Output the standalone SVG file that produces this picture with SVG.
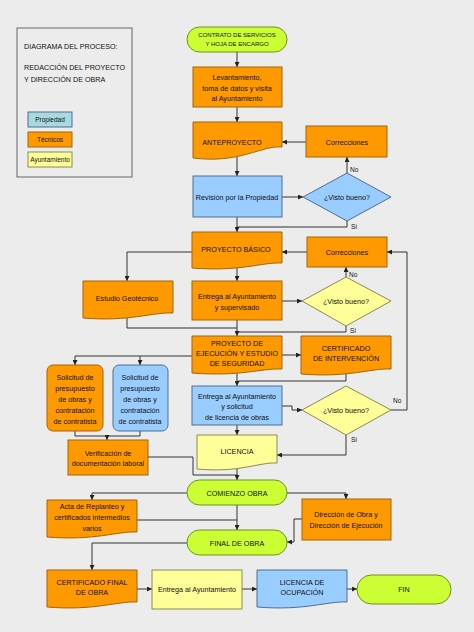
<svg xmlns="http://www.w3.org/2000/svg" width="474" height="632" viewBox="0 0 474 632">
<defs>
<marker id="ah" viewBox="0 0 6 6" refX="6" refY="3" markerWidth="5" markerHeight="5" orient="auto" markerUnits="userSpaceOnUse"><path d="M0,0 L6,3 L0,6 z" fill="#222"/></marker>
<style>
text{font-family:"Liberation Sans",Arial,sans-serif;font-size:7.2px;fill:#111;text-anchor:middle}
.lt{text-anchor:start}
.sm{font-size:6.5px}
.st{font-size:6px}
.or{fill:#ff9900;stroke:#a0660a;stroke-width:1}
.bl{fill:#99ccff;stroke:#4f6f8f;stroke-width:1}
.ye{fill:#ffff99;stroke:#8a8a50;stroke-width:1}
.gr{fill:#ccff33;stroke:#6f8f20;stroke-width:1}
#connectors polyline,#connectors line{fill:none;stroke:#333;stroke-width:1}
.a{marker-end:url(#ah)}
</style>
</defs>
<rect width="474" height="632" fill="#ececec"/>

<g id="legend">
<rect x="17" y="28" width="115" height="149" fill="#ececec" stroke="#666" stroke-width="1"/>
<text class="lt" x="24" y="49">DIAGRAMA DEL PROCESO:</text>
<text class="lt" x="24" y="70">REDACCIÓN DEL PROYECTO</text>
<text class="lt" x="24" y="82">Y DIRECCIÓN DE OBRA</text>
<rect class="bl" x="28" y="112" width="44" height="15" style="fill:#a8d8e0"/>
<text class="sm" x="50" y="122">Propiedad</text>
<rect class="or" x="28" y="132" width="44" height="15"/>
<text class="sm" x="50" y="142">Técnicos</text>
<rect class="ye" x="28" y="152" width="44" height="15"/>
<text class="sm" x="50" y="162">Ayuntamiento</text>
</g>

<g id="connectors">
<line class="a" x1="237" y1="52" x2="237" y2="67"/>
<line class="a" x1="237" y1="107" x2="237" y2="122"/>
<line class="a" x1="306" y1="142" x2="282" y2="142"/>
<line class="a" x1="237" y1="156" x2="237" y2="176"/>
<line class="a" x1="282" y1="197" x2="303" y2="197"/>
<line class="a" x1="347" y1="173" x2="347" y2="157"/>
<polyline points="347,221 347,227 237,227"/>
<line class="a" x1="237" y1="217" x2="237" y2="232"/>
<line class="a" x1="307" y1="252" x2="282" y2="252"/>
<polyline class="a" points="192,252 127,252 127,281"/>
<line class="a" x1="237" y1="266" x2="237" y2="281"/>
<line class="a" x1="282" y1="301" x2="302" y2="301"/>
<line class="a" x1="346" y1="277" x2="346" y2="267"/>
<polyline points="346,326 346,332 238,332"/>
<polyline points="127,317 127,328 237,328"/>
<line class="a" x1="237" y1="320" x2="237" y2="336"/>
<line class="a" x1="282" y1="355" x2="301" y2="355"/>
<polyline points="346,371 346,381 238,381"/>
<line class="a" x1="237" y1="370" x2="237" y2="386"/>
<polyline class="a" points="192,356 75,356 75,365"/>
<line class="a" x1="140" y1="356" x2="140" y2="365"/>
<polyline points="75,431 75,436 140,436 140,431"/>
<line class="a" x1="107" y1="436" x2="107" y2="440"/>
<polyline class="a" points="282,406 292,406 292,410 302,410"/>
<polyline class="a" points="391,410 407,410 407,252 387,252"/>
<polyline class="a" points="346,435 346,455 277,455"/>
<line class="a" x1="237" y1="425" x2="237" y2="435"/>
<polyline points="148,457 193,457 193,475 237,475"/>
<line class="a" x1="237" y1="466" x2="237" y2="480"/>
<polyline class="a" points="187,493 92,493 92,500"/>
<polyline class="a" points="287,493 346,493 346,499"/>
<line class="a" x1="237" y1="505" x2="237" y2="530"/>
<polyline points="137,520 237,520"/>
<polyline class="a" points="302,519 294,519 294,542 287,542"/>
<polyline class="a" points="187,543 92,543 92,570"/>
<line class="a" x1="137" y1="589" x2="152" y2="589"/>
<line class="a" x1="242" y1="589" x2="257" y2="589"/>
<line class="a" x1="347" y1="589" x2="357" y2="589"/>
<text class="sm lt" x="350" y="172">No</text>
<text class="sm lt" x="351" y="229">Sí</text>
<text class="sm lt" x="349" y="277">No</text>
<text class="sm lt" x="350" y="333">Sí</text>
<text class="sm lt" x="393" y="403">No</text>
<text class="sm lt" x="351" y="442">Sí</text>
</g>

<g id="contrato">
<rect class="gr" x="187" y="27" width="100" height="25" rx="12.5"/>
<text class="st" x="237" y="37">CONTRATO DE SERVICIOS</text>
<text class="st" x="237" y="46">Y HOJA DE ENCARGO</text>
</g>
<g id="levantamiento">
<rect class="or" x="193" y="67" width="89" height="40"/>
<text x="237" y="80">Levantamiento,</text>
<text x="237" y="90.5">toma de datos y visita</text>
<text x="237" y="101">al Ayuntamiento</text>
</g>
<g id="anteproyecto">
<path class="or" d="M193,122 H282 V147 C262,145 240,164 193,158 Z"/>
<text x="232" y="144.5">ANTEPROYECTO</text>
</g>
<g id="correcciones1">
<rect class="or" x="306" y="126" width="81" height="31"/>
<text x="347" y="144.5">Correcciones</text>
</g>
<g id="revision">
<rect class="bl" x="193" y="176" width="89" height="41"/>
<text x="237" y="199.5">Revisión por la Propiedad</text>
</g>
<g id="visto1">
<path class="bl" d="M347,173 L391,197 L347,221 L303,197 Z"/>
<text x="347" y="199.5">¿Visto bueno?</text>
</g>
<g id="proyectobasico">
<path class="or" d="M192,232 H282 V263 C262,262 240,272 192,268 Z"/>
<text x="236" y="251.5">PROYECTO BÁSICO</text>
</g>
<g id="correcciones2">
<rect class="or" x="307" y="237" width="80" height="30"/>
<text x="347" y="254.5">Correcciones</text>
</g>
<g id="estudio">
<path class="or" d="M83,281 H173 V313 C152,312 130,322 83,318 Z"/>
<text x="127" y="300.5">Estudio Geotécnico</text>
</g>
<g id="entrega1">
<rect class="or" x="192" y="281" width="90" height="39"/>
<text x="237" y="299">Entrega al Ayuntamiento</text>
<text x="237" y="309.5">y supervisado</text>
</g>
<g id="visto2">
<path class="ye" d="M346,277 L391,301 L346,326 L302,301 Z"/>
<text x="346" y="303.5">¿Visto bueno?</text>
</g>
<g id="proyectoejecucion">
<path class="or" d="M192,336 H282 V369 C262,368 240,377 192,373 Z"/>
<text x="237" y="345.5">PROYECTO DE</text>
<text x="237" y="355.5">EJECUCIÓN Y ESTUDIO</text>
<text x="237" y="365.5">DE SEGURIDAD</text>
</g>
<g id="certificadointervencion">
<path class="or" d="M301,336 H391 V369 C371,368 349,378 301,374 Z"/>
<text x="346" y="350.5">CERTIFICADO</text>
<text x="346" y="360.5">DE INTERVENCIÓN</text>
</g>
<g id="solicitud1">
<rect class="or" x="47" y="365" width="56" height="66" rx="6"/>
<text x="75" y="379.5">Solicitud de</text>
<text x="75" y="390.5">presupuesto</text>
<text x="75" y="401.5">de obras y</text>
<text x="75" y="412.5">contratación</text>
<text x="75" y="423.5">de contratista</text>
</g>
<g id="solicitud2">
<rect class="bl" x="113" y="365" width="55" height="66" rx="6"/>
<text x="140" y="379.5">Solicitud de</text>
<text x="140" y="390.5">presupuesto</text>
<text x="140" y="401.5">de obras y</text>
<text x="140" y="412.5">contratación</text>
<text x="140" y="423.5">de contratista</text>
</g>
<g id="entrega2">
<rect class="bl" x="192" y="386" width="90" height="39"/>
<text x="237" y="398.5">Entrega al Ayuntamiento</text>
<text x="237" y="409">y solicitud</text>
<text x="237" y="419.5">de licencia de obras</text>
</g>
<g id="visto3">
<path class="ye" d="M346,386 L391,410 L346,435 L302,410 Z"/>
<text x="346" y="412.5">¿Visto bueno?</text>
</g>
<g id="verificacion">
<rect class="or" x="68" y="440" width="80" height="35"/>
<text x="108" y="455.5">Verificación de</text>
<text x="108" y="466">documentación laboral</text>
</g>
<g id="licencia">
<path class="ye" d="M197,435 H277 V463 C259,462 240,473 197,469 Z"/>
<text x="237" y="453.5">LICENCIA</text>
</g>
<g id="comienzo">
<rect class="gr" x="187" y="480" width="100" height="25" rx="12.5"/>
<text x="237" y="495.5">COMIENZO OBRA</text>
</g>
<g id="acta">
<path class="or" d="M47,500 H137 V532 C117,531 95,541 47,537 Z"/>
<text x="92" y="508.5">Acta de Replanteo y</text>
<text x="92" y="519.5">certificados intermedios</text>
<text x="92" y="530.5">varios</text>
</g>
<g id="direccion">
<rect class="or" x="302" y="499" width="89" height="41"/>
<text x="346" y="516.5">Dirección de Obra y</text>
<text x="346" y="527.5">Dirección de Ejecución</text>
</g>
<g id="final">
<rect class="gr" x="187" y="530" width="100" height="25" rx="12.5"/>
<text x="237" y="545.5">FINAL DE OBRA</text>
</g>
<g id="certificadofinal">
<path class="or" d="M47,570 H137 V602 C117,601 95,611 47,607 Z"/>
<text x="92" y="584.5">CERTIFICADO FINAL</text>
<text x="92" y="594.5">DE OBRA</text>
</g>
<g id="entrega3">
<rect class="ye" x="152" y="570" width="90" height="39"/>
<text x="197" y="592">Entrega al Ayuntamiento</text>
</g>
<g id="licenciaocupacion">
<path class="bl" d="M257,570 H347 V602 C327,601 305,611 257,607 Z"/>
<text x="302" y="584.5">LICENCIA DE</text>
<text x="302" y="594.5">OCUPACIÓN</text>
</g>
<g id="fin">
<rect class="gr" x="357" y="575" width="94" height="29" rx="14.5"/>
<text x="404" y="592">FIN</text>
</g>
</svg>
